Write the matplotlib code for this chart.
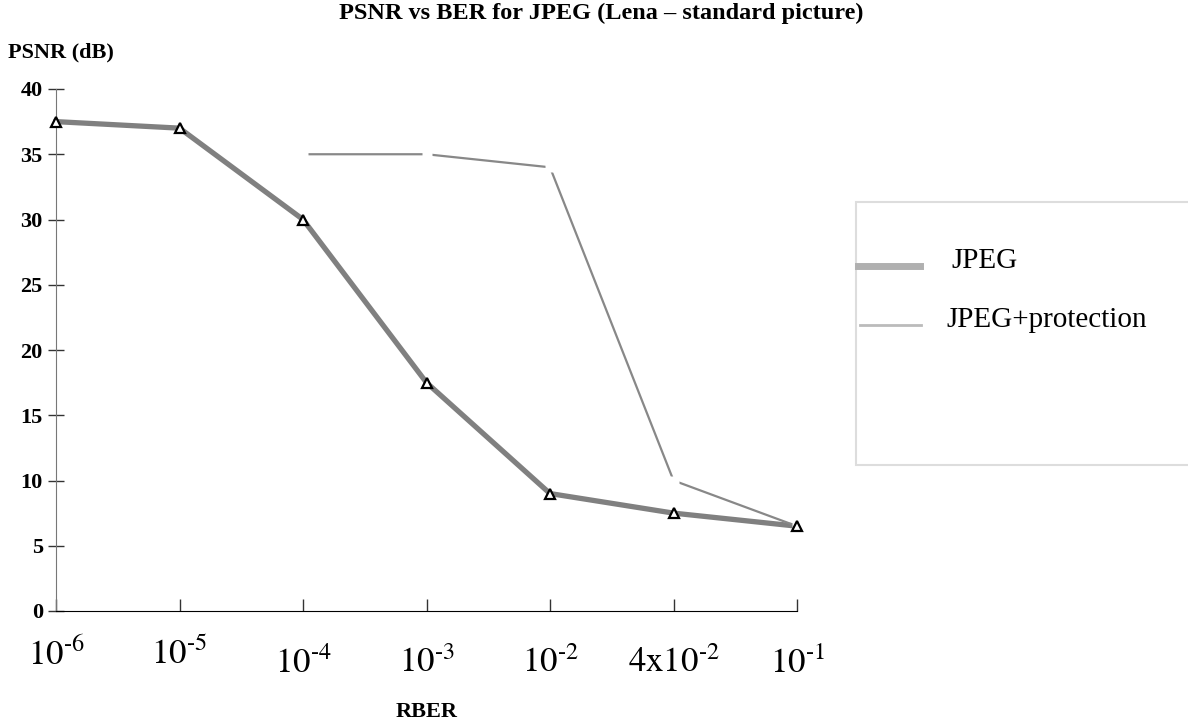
import matplotlib
matplotlib.use("Agg")
import matplotlib.pyplot as plt
import matplotlib.transforms as mtransforms
from matplotlib.lines import Line2D
from matplotlib.patches import Rectangle

# data
ber_labels = ["$10^{\\text{-6}}$", "$10^{\\text{-5}}$", "$10^{\\text{-4}}$", "$10^{\\text{-3}}$",
              "$10^{\\text{-2}}$", "$\\text{4x}10^{\\text{-2}}$", "$10^{\\text{-1}}$"]
jpeg = [37.5, 37.0, 30.0, 17.5, 9.0, 7.5, 6.5]
prot_idx = [2, 3, 4, 5, 6]
jpeg_prot = [35.0, 35.0, 34.0, 10.0, 6.5]

plt.rcParams['font.family'] = ['Liberation Serif', 'DejaVu Serif']
plt.rcParams['mathtext.fontset'] = 'stix'

fig = plt.figure(figsize=(11.88, 7.26), dpi=100)
ax = fig.add_axes([56/1188, 1-611/726, (797-56)/1188, (611-89)/726])

x = list(range(len(jpeg)))
ax.plot(x, jpeg, color='#808080', linewidth=3.8, zorder=2)
ax.plot(x, jpeg, linestyle='none', marker='^', markersize=7,
        markerfacecolor='white', markeredgecolor='black', markeredgewidth=1.6, zorder=3)
ax.plot(prot_idx, jpeg_prot, color='#888888', linewidth=1.6, zorder=2)
ax.plot(prot_idx, jpeg_prot, linestyle='none', marker='s', markersize=7,
        markerfacecolor='white', markeredgecolor='none', zorder=2.5)

ax.set_xlim(0, 6)
ax.set_ylim(0, 40)
ax.set_yticks(range(0, 41, 5))
ax.set_yticklabels([str(v) for v in range(0, 41, 5)], fontsize=16, fontweight='bold')
ax.set_xticks(x)
ax.set_xticklabels(ber_labels, fontsize=25)
ax.tick_params(axis='y', direction='inout', length=11, width=1, color='#333333', pad=4)
ax.tick_params(axis='x', direction='in', length=9, width=1, color='#333333', pad=26)
for s in ['top', 'right']:
    ax.spines[s].set_visible(False)
ax.spines['left'].set_color('#777777')
ax.spines['bottom'].set_color('black')
for ln in ax.lines:
    ln.set_clip_on(False)

# first two x labels sit a little higher in the original
for lab in ax.get_xticklabels()[:2]:
    lab.set_transform(lab.get_transform() +
                      mtransforms.ScaledTranslation(0, 6/72, fig.dpi_scale_trans))

fig.text(601/1188, 1-13/726, 'PSNR vs BER for JPEG (Lena \u2013 standard picture)',
         ha='center', va='center', fontsize=17.5, fontweight='bold')
fig.text(8/1188, 1-52/726, 'PSNR (dB)', ha='left', va='center', fontsize=16, fontweight='bold')
fig.text(427/1188, 1-712/726, 'RBER', ha='center', va='center', fontsize=16, fontweight='bold')

# legend box
fig.patches.append(Rectangle((856/1188, 1-465/726), 340/1188, 263/726,
                             transform=fig.transFigure, facecolor='white',
                             edgecolor='#dddddd', linewidth=1.5))
fig.lines.append(Line2D([858/1188, 920/1188], [1-266/726, 1-266/726],
                        transform=fig.transFigure, color='#b0b0b0', linewidth=5))
fig.lines.append(Line2D([860/1188, 921/1188], [1-325/726, 1-325/726],
                        transform=fig.transFigure, color='#bbbbbb', linewidth=2))
fig.text(951/1188, 1-261/726, 'JPEG', ha='left', va='center', fontsize=21)
fig.text(946/1188, 1-320/726, 'JPEG+protection', ha='left', va='center', fontsize=21)

fig.savefig('out.png', dpi=100)
